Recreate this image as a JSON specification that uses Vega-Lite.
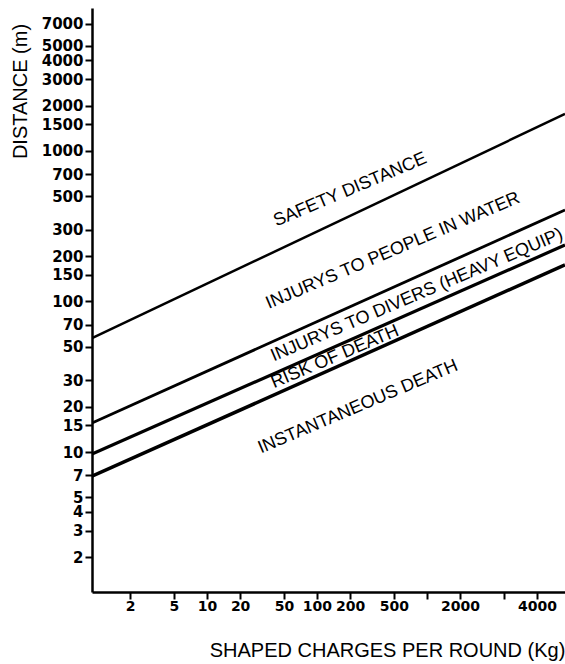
{
  "$schema": "https://vega.github.io/schema/vega-lite/v6.json",
  "width": 473,
  "height": 584,
  "autosize": {"type": "none"},
  "padding": {"left": 92, "top": 8, "right": 0, "bottom": 72},
  "background": "white",
  "config": {"view": {"stroke": null}},
  "datasets": {
    "lines": [
      {"curve": "Safety distance", "charge": 0.9, "distance": 57},
      {"curve": "Safety distance", "charge": 18000, "distance": 1760},
      {"curve": "Injurys to people in water", "charge": 0.9, "distance": 15.6},
      {"curve": "Injurys to people in water", "charge": 18000, "distance": 405},
      {"curve": "Injurys to divers", "charge": 0.9, "distance": 9.7},
      {"curve": "Injurys to divers", "charge": 18000, "distance": 237},
      {"curve": "Risk of death", "charge": 0.9, "distance": 6.9},
      {"curve": "Risk of death", "charge": 18000, "distance": 175}
    ],
    "labels": [
      {"text": "SAFETY DISTANCE", "charge": 200, "distance": 551},
      {"text": "INJURYS TO PEOPLE IN WATER", "charge": 491, "distance": 217},
      {"text": "INJURYS TO DIVERS (HEAVY EQUIP)", "charge": 811, "distance": 110},
      {"text": "RISK OF DEATH", "charge": 146, "distance": 42.8},
      {"text": "INSTANTANEOUS DEATH", "charge": 236, "distance": 19.9}
    ]
  },
  "layer": [
    {
      "data": {"name": "lines"},
      "mark": {"type": "line", "color": "black", "clip": true},
      "encoding": {
        "x": {
          "field": "charge",
          "type": "quantitative",
          "scale": {"type": "log", "domain": [0.9, 18000], "nice": false},
          "axis": {
            "title": "SHAPED CHARGES PER ROUND (Kg)",
            "values": [2, 5, 10, 20, 50, 100, 200, 500, 1000, 2000, 5000, 10000],
            "format": "d",
            "labelExpr": "datum.value == 1000 || datum.value == 5000 ? '' : (datum.value == 10000 ? '4000' : datum.label)",
            "grid": false,
            "ticks": true,
            "tickSize": 7,
            "tickWidth": 2,
            "tickColor": "black",
            "domainColor": "black",
            "domainWidth": 2.5,
            "labelFont": "DejaVu Sans",
            "labelFontWeight": "bold",
            "labelFontSize": 14,
            "labelColor": "black",
            "labelPadding": 0,
            "labelFlush": false,
            "labelOverlap": false,
            "titleFont": "Liberation Sans",
            "titleFontSize": 20,
            "titleFontWeight": "normal",
            "titleColor": "black",
            "titleX": 295,
            "titleY": 58,
            "titleBaseline": "middle",
            "titleAlign": "center",
            "encoding": {
              "ticks": {
                "enter": {"y2": {"value": -7}},
                "update": {"y2": {"value": -7}}
              }
            }
          }
        },
        "y": {
          "field": "distance",
          "type": "quantitative",
          "scale": {"type": "log", "domain": [1.175, 8900], "nice": false},
          "axis": {
            "title": "DISTANCE (m)",
            "values": [2, 3, 4, 5, 7, 10, 15, 20, 30, 50, 70, 100, 150, 200, 300, 500, 700, 1000, 1500, 2000, 3000, 4000, 5000, 7000],
            "format": "d",
            "grid": false,
            "ticks": true,
            "tickSize": 7,
            "tickWidth": 2,
            "tickColor": "black",
            "domainColor": "black",
            "domainWidth": 2.5,
            "labelFont": "DejaVu Sans",
            "labelFontWeight": "bold",
            "labelFontSize": 15,
            "labelColor": "black",
            "labelPadding": 2,
            "labelFlush": false,
            "labelOverlap": false,
            "titleFont": "Liberation Sans",
            "titleFontSize": 20,
            "titleFontWeight": "normal",
            "titleColor": "black",
            "titleX": -72,
            "titleY": 83,
            "titleAngle": -90,
            "titleBaseline": "middle",
            "titleAlign": "center",
            "encoding": {
              "ticks": {
                "enter": {"x2": {"value": 7}},
                "update": {"x2": {"value": 7}}
              }
            }
          }
        },
        "detail": {"field": "curve", "type": "nominal"},
        "strokeWidth": {
          "field": "curve",
          "type": "nominal",
          "scale": {
            "domain": ["Safety distance", "Injurys to people in water", "Injurys to divers", "Risk of death"],
            "range": [2.5, 3.5, 2.5, 2.5]
          },
          "legend": null
        }
      }
    },
    {
      "data": {"name": "labels"},
      "mark": {"type": "text", "angle": -23, "font": "Liberation Sans", "fontSize": 18, "color": "black", "align": "center", "baseline": "middle"},
      "encoding": {
        "x": {"field": "charge", "type": "quantitative", "scale": {"type": "log", "domain": [0.9, 18000], "nice": false}},
        "y": {"field": "distance", "type": "quantitative", "scale": {"type": "log", "domain": [1.175, 8900], "nice": false}},
        "text": {"field": "text", "type": "nominal"}
      }
    }
  ]
}
